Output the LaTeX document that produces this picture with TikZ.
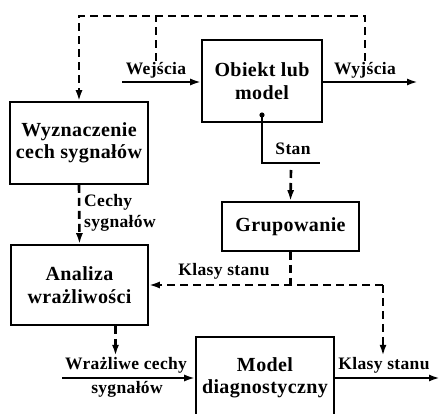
\documentclass[tikz,border=0pt]{standalone}
\usepackage{fontspec}
\setmainfont{Liberation Serif}[LetterSpace=2]
\usepackage{tikz}
\usetikzlibrary{arrows.meta, positioning, calc}

\begin{document}
\begin{tikzpicture}[
  x=1pt, y=-1pt,
  every node/.style={font=\fontsize{17.5}{21}\selectfont\bfseries, align=center},
  blok/.style={draw, line width=1.6pt, inner sep=2pt,
               font=\fontsize{20}{22.5}\selectfont\bfseries},
  lab/.style={inner sep=1pt},
  arr/.style={-{Latex[length=11pt,width=7pt]}, line width=2.2pt},
  przer/.style={line width=2.6pt, dash pattern=on 8pt off 5pt},
  przerarr/.style={przer, -{Latex[length=11pt,width=7pt]}},
]
  \useasboundingbox (0,0) rectangle (440,414);
  \clip (0,0) rectangle (440,414);

  % bloki
  \node[blok, minimum width=120pt, minimum height=82pt] (obj) at (262,81)    {Obiekt lub\\model};
  \node[blok, minimum width=138pt, minimum height=82pt] (wyz) at (79,143)    {Wyznaczenie\\cech sygnałów};
  \node[blok, minimum width=137pt, minimum height=49pt] (grp) at (290.5,226.5) {Grupowanie};
  \node[blok, minimum width=137pt, minimum height=80pt] (ana) at (79.5,285) {Analiza\\wrażliwości};
  \node[blok, minimum width=138pt, minimum height=82pt] (mod) at (265,378)   {Model\\diagnostyczny};

  % opisy
  \node[lab] (wejlab) at (156,70)  {Wejścia};
  \node[lab] (wyjlab) at (365,70)  {Wyjścia};
  \node[lab] (stanlab) at (293,149) {Stan};
  \node[lab, anchor=west, align=left] (ceclab) at (83,213) {Cechy\\sygnałów};
  \node[lab] (kl1lab) at (224,271) {Klasy stanu};
  \node[lab] (wrzlab) at (126,365) {Wrażliwe cechy};
  \node[lab] (syglab) at (127,389) {sygnałów};
  \node[lab] (kl2lab) at (384,365) {Klasy stanu};

  % punkty
  \coordinate (wejin)  at (122,82);
  \coordinate (wyjout) at (418,82);
  \coordinate (tl)     at (79,16);
  \coordinate (dot)    at (262,115);
  \coordinate (stend)  at (320,163);
  \coordinate (stg)    at (291,170);
  \coordinate (jr)     at (383,285);
  \coordinate (wrzin)  at (62,378);
  \coordinate (klout)  at (440,378);

  % sygnaly ciagle
  \draw[arr] (wejin) -- (wejin -| obj.west);
  \draw[arr] (obj.east |- wyjout) -- (wyjout);
  \fill (dot) circle (2.6pt);
  \draw[line width=1.8pt] (dot) |- (stend);
  \draw[arr] (wrzin) -- (mod.west);
  \draw[arr] (mod.east) -- (klout);

  % sygnaly przerywane
  \draw[przerarr] (wyjlab.north) |- (tl) -- (wyz.north);
  \draw[przer] (wejlab.north) -- (wejlab.north |- tl);
  \draw[przerarr] (wyz.south) -- (ana.north);
  \draw[przerarr] (stg) -- (grp.north);
  \draw[przer] (grp.south) -- (grp.south |- jr);
  \draw[przerarr] (jr) -- (ana.east);
  \draw[przerarr] (jr) -- (jr |- kl2lab.north);
  \draw[przerarr] (ana.south) ++(36,0) coordinate (a1) -- (a1 |- wrzlab.north);
\end{tikzpicture}
\end{document}
